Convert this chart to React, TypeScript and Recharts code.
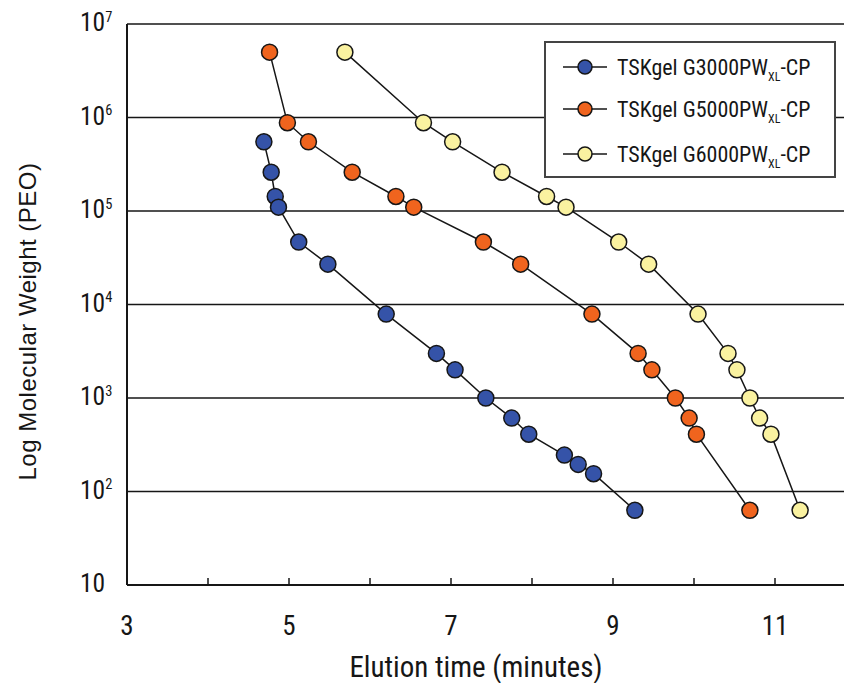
import React from "react";
import { LineChart, Line, XAxis, YAxis, CartesianGrid, Legend, Label } from "recharts";

// Elution time (minutes) and log molecular weight (PEO) for each column
const g3000Time = [4.69, 4.78, 4.83, 4.87, 5.12, 5.48, 6.2, 6.82, 7.05, 7.43, 7.75, 7.96, 8.4, 8.57, 8.76, 9.27];
const g3000MW = [5.5e5, 2.6e5, 1.43e5, 1.1e5, 4.66e4, 2.7e4, 7.9e3, 3.0e3, 2.0e3, 1.0e3, 610, 410, 245, 195, 155, 63];

const g5000Time = [4.76, 4.98, 5.24, 5.78, 6.32, 6.54, 7.4, 7.86, 8.74, 9.31, 9.48, 9.77, 9.94, 10.03, 10.69];
const g5000MW = [5.0e6, 8.8e5, 5.5e5, 2.6e5, 1.43e5, 1.1e5, 4.66e4, 2.7e4, 7.9e3, 3.0e3, 2.0e3, 1.0e3, 610, 410, 63];

const g6000Time = [5.69, 6.66, 7.02, 7.63, 8.18, 8.42, 9.07, 9.44, 10.05, 10.42, 10.53, 10.69, 10.81, 10.95, 11.31];
const g6000MW = [5.0e6, 8.8e5, 5.5e5, 2.6e5, 1.43e5, 1.1e5, 4.66e4, 2.7e4, 7.9e3, 3.0e3, 2.0e3, 1.0e3, 610, 410, 63];

const xTicks = [3, 4, 5, 6, 7, 8, 9, 10, 11, 12];
const yTicks = [10, 100, 1e3, 1e4, 1e5, 1e6, 1e7];

const seriesNames = ["TSKgel G3000PW", "TSKgel G5000PW", "TSKgel G6000PW"];
const seriesColors = ["#3553a8", "#f0641e", "#faf2a0"];

const zip = (t: number[], m: number[]) => t.map((v, i) => ({ t: v, mw: m[i] }));
const d3000 = zip(g3000Time, g3000MW);
const d5000 = zip(g5000Time, g5000MW);
const d6000 = zip(g6000Time, g6000MW);

const NARROW = "'Liberation Sans Narrow', 'Roboto Condensed', 'Arial Narrow', sans-serif";
const INK = "#161616";

const YTick = (props: any) => {
  const { x, y, payload } = props;
  const exp = Math.round(Math.log10(payload.value));
  return (
    <text x={x - 47} y={y + 7} fontSize={25.5} fontFamily={NARROW} fill={INK} textAnchor="start">
      10
      {exp > 1 && (
        <tspan dy={-9.5} fontSize={14.5}>
          {exp}
        </tspan>
      )}
    </text>
  );
};

const XTick = (props: any) => {
  const { x, y, payload } = props;
  return (
    <g>
      <line x1={x} x2={x} y1={y} y2={y - 7} stroke={INK} strokeWidth={1.5} />
      {payload.value % 2 === 1 && (
        <text x={x} y={y + 50} textAnchor="middle" fontSize={27} fontFamily={NARROW} fill={INK}>
          {payload.value}
        </text>
      )}
    </g>
  );
};

const XTitle = (props: any) => {
  const vb = props.viewBox || { x: 127, y: 585 };
  return (
    <text x={vb.x + 349} y={vb.y + 92} textAnchor="middle" fontSize={29} fontFamily={NARROW} fill={INK}>
      Elution time (minutes)
    </text>
  );
};

const YTitle = (props: any) => {
  const cx = 27;
  const cy = 321.5;
  return (
    <text
      x={cx}
      y={cy}
      textAnchor="middle"
      dominantBaseline="central"
      transform={`rotate(-90, ${cx}, ${cy})`}
      fontSize={24}
      letterSpacing={0.5}
      fontFamily="'Liberation Sans', Arial, sans-serif"
      fill={INK}
    >
      Log Molecular Weight (PEO)
    </text>
  );
};

const LegendBox = () => {
  const rows = [67, 109, 154];
  return (
    <svg width={292} height={137} style={{ display: "block" }}>
      <rect x={1} y={1} width={290} height={135} fill="#fff" stroke="#444" strokeWidth={2} />
      {seriesNames.map((name, i) => {
        const cy = rows[i] - 41;
        return (
          <g key={name}>
            <line x1={19} x2={63} y1={cy} y2={cy} stroke={INK} strokeWidth={1.5} />
            <circle cx={41} cy={cy} r={7} fill={seriesColors[i]} stroke={INK} strokeWidth={1.5} />
            <text x={73} y={cy + 8} fontSize={22} fontFamily={NARROW} fill={INK}>
              {name}
              <tspan dy={6} fontSize={12}>
                XL
              </tspan>
              <tspan dy={-6}>-CP</tspan>
            </text>
          </g>
        );
      })}
    </svg>
  );
};

const dotStyle = (c: string) => ({ r: 8, fill: c, stroke: INK, strokeWidth: 1.5 });

export default function App() {
  return (
    <div style={{ position: "absolute", left: 0, top: 0, width: 844, height: 683, overflow: "hidden", background: "#fff" }}>
      <LineChart width={856} height={683} margin={{ top: 24, right: 0, bottom: 0, left: 0 }}>
        <CartesianGrid vertical={false} stroke={INK} strokeWidth={1.6} />
        <XAxis
          type="number"
          dataKey="t"
          domain={[3, 12]}
          ticks={xTicks}
          interval={0}
          height={98}
          tickSize={0}
          tickMargin={0}
          tickLine={false}
          axisLine={{ stroke: INK, strokeWidth: 2 }}
          tick={<XTick />}
          allowDataOverflow
        >
          <Label content={<XTitle />} />
        </XAxis>
        <YAxis
          type="number"
          dataKey="mw"
          scale="log"
          domain={[10, 1e7]}
          ticks={yTicks}
          interval={0}
          width={127}
          tickSize={0}
          tickMargin={0}
          tickLine={false}
          axisLine={{ stroke: INK, strokeWidth: 2 }}
          tick={<YTick />}
          allowDataOverflow
        >
          <Label content={<YTitle />} />
        </YAxis>
        <Legend
          layout="horizontal"
          verticalAlign="middle"
          align="center"
          content={<LegendBox />}
          wrapperStyle={{ position: "absolute", left: 544, top: 41, width: 292, height: 137 }}
        />
        <Line data={d3000} dataKey="mw" name={seriesNames[0]} stroke={INK} strokeWidth={1.5} dot={dotStyle(seriesColors[0])} isAnimationActive={false} />
        <Line data={d5000} dataKey="mw" name={seriesNames[1]} stroke={INK} strokeWidth={1.5} dot={dotStyle(seriesColors[1])} isAnimationActive={false} />
        <Line data={d6000} dataKey="mw" name={seriesNames[2]} stroke={INK} strokeWidth={1.5} dot={dotStyle(seriesColors[2])} isAnimationActive={false} />
      </LineChart>
    </div>
  );
}
